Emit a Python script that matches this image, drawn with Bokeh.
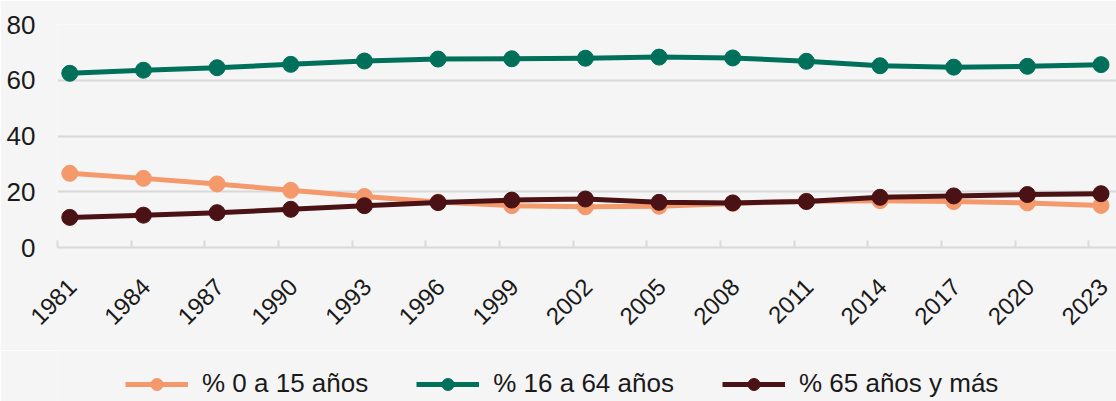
import math
from bokeh.plotting import figure
from bokeh.layouts import column
from bokeh.models import Range1d, FixedTicker, CustomJSTickFormatter, Legend, LegendItem
from bokeh.embed import file_html
from bokeh.resources import INLINE

# ---- data ----
years = [1981, 1984, 1987, 1990, 1993, 1996, 1999, 2002, 2005, 2008, 2011, 2014, 2017, 2020, 2023]
pct_0_15 = [26.6, 24.8, 22.8, 20.5, 18.3, 16.3, 15.0, 14.6, 14.8, 15.8, 16.6, 16.8, 16.5, 16.0, 15.1]
pct_16_64 = [62.5, 63.6, 64.5, 65.7, 66.9, 67.6, 67.7, 67.9, 68.3, 68.0, 66.8, 65.2, 64.7, 65.0, 65.6]
pct_65_mas = [10.8, 11.6, 12.5, 13.7, 15.0, 16.1, 17.0, 17.4, 16.2, 16.0, 16.5, 18.0, 18.5, 19.0, 19.3]
series_names = ["% 0 a 15 años", "% 16 a 64 años", "% 65 años y más"]
y_ticks = [0, 20, 40, 60, 80]

# ---- style ----
BG = "#f5f5f5"
GRID = "#d9d9d9"
TEXT = "#1a1a1a"
FONT = "Liberation Sans"
colors = ["#f4996b", "#00705a", "#4a1214"]
LABEL_SHIFT = 0.1
series = [pct_0_15, pct_16_64, pct_65_mas]

p = figure(width=1116, height=350,
           x_range=Range1d(1980.5, 2023.63), y_range=Range1d(0, 80),
           output_backend="svg", toolbar_location=None,
           min_border_left=57, min_border_right=0, min_border_top=24, min_border_bottom=103,
           background_fill_color=BG, border_fill_color=BG, outline_line_color=None)

# x axis
p.xaxis.ticker = FixedTicker(ticks=[y + LABEL_SHIFT for y in years],
                             minor_ticks=[y - 0.5 for y in years])
p.xaxis.formatter = CustomJSTickFormatter(code="return String(Math.round(tick - %s));" % LABEL_SHIFT)
p.xaxis.major_label_orientation = math.pi / 4
p.xaxis.major_label_standoff = 29
p.xaxis.major_tick_line_color = None
p.xaxis.minor_tick_line_color = GRID
p.xaxis.minor_tick_line_width = 2
p.xaxis.minor_tick_in = 7
p.xaxis.minor_tick_out = 0
p.xaxis.axis_line_color = GRID
p.xaxis.axis_line_width = 2
p.xaxis.major_label_text_font = FONT
p.xaxis.major_label_text_font_size = "24px"
p.xaxis.major_label_text_color = TEXT
p.xgrid.grid_line_color = None

# y axis
p.yaxis.ticker = FixedTicker(ticks=y_ticks)
p.yaxis.axis_line_color = None
p.yaxis.major_tick_line_color = None
p.yaxis.minor_tick_line_color = None
p.yaxis.major_label_standoff = 16
p.yaxis.major_label_text_font = FONT
p.yaxis.major_label_text_font_size = "26px"
p.yaxis.major_label_text_color = TEXT
p.ygrid.grid_line_color = GRID
p.ygrid.grid_line_width = 2

for vals, color in zip(series, colors):
    p.line(years, vals, line_width=5, line_color=color, line_join="round")
    p.scatter(years, vals, size=16, fill_color=color, line_color=color)

# ---- legend strip (separate figure below) ----
lg = figure(width=1116, height=51, x_range=Range1d(0, 1), y_range=Range1d(1000, 1001),
            output_backend="svg", toolbar_location=None,
            x_axis_type=None, y_axis_type=None,
            min_border_left=0, min_border_right=0, min_border_top=0, min_border_bottom=0,
            background_fill_color=BG, border_fill_color=BG, outline_line_color=None)
lg.grid.visible = False

items = []
for vals, color, name in zip(series, colors, series_names):
    rl = lg.line(years, vals, line_width=5, line_color=color)
    rs = lg.scatter(years, vals, size=16, fill_color=color, line_color=color)
    items.append(LegendItem(label=name, renderers=[rl, rs]))

legend = Legend(items=items, location=(68, 2), orientation="horizontal",
                glyph_width=63, glyph_height=30, label_standoff=14, spacing=48,
                padding=0, margin=0, border_line_color=None, background_fill_alpha=0,
                label_text_font=FONT, label_text_font_size="26px", label_text_color=TEXT,
                label_height=30)
lg.add_layout(legend)

layout = column(p, lg, spacing=0)
open("out.html", "w").write(file_html(layout, INLINE))
